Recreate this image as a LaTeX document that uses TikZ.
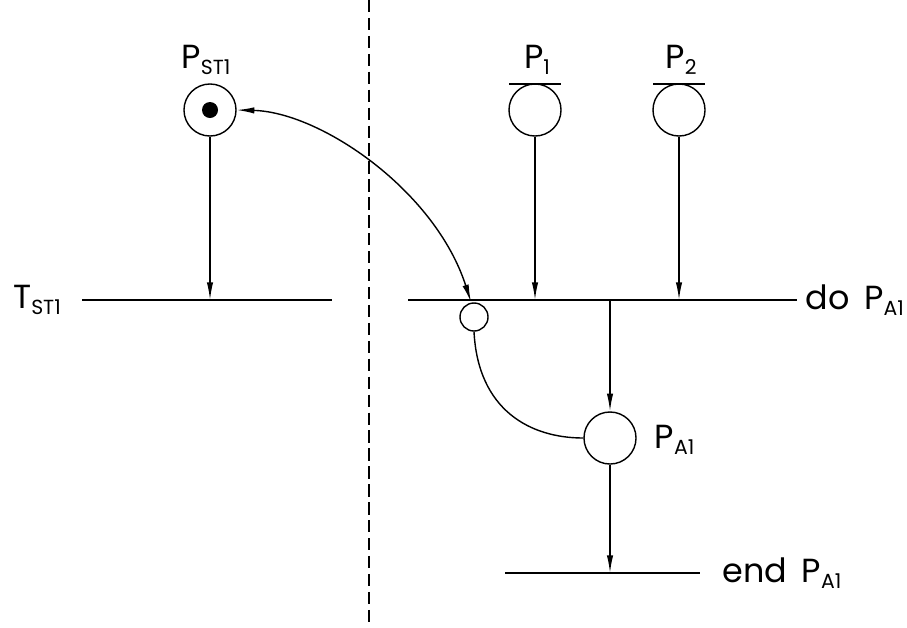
\documentclass[tikz,border=0pt]{standalone}
\usepackage{fontspec}
\setmainfont{Poppins}
\usetikzlibrary{arrows.meta,calc}
\newcommand{\sbs}[1]{\raisebox{-0.3ex}{\fontsize{5.8}{6}\selectfont #1}}
\begin{document}
\begin{tikzpicture}[x=0.01cm,y=-0.01cm,
  place/.style={draw,circle,line width=0.4pt,inner sep=0pt,minimum size=0.52cm},
  smallplace/.style={draw,circle,line width=0.4pt,inner sep=0pt,minimum size=0.28cm},
  trans/.style={line width=0.55pt},
  arc/.style={line width=0.4pt,-{Latex[length=5pt,width=1.8pt]}},
  plain/.style={line width=0.4pt},
  lbl/.style={font=\fontsize{9.5}{10}\selectfont,inner sep=0pt}]
\useasboundingbox (0,0) rectangle (907,627);
% dashed separator
\coordinate (dtop) at (369,0);
\coordinate (dbot) at (369,627);
\draw[line width=0.35pt,dash pattern=on 3.5pt off 1.6pt] (dtop) -- (dbot);
% places
\node[place] (pst) at (210,110) {};
\fill (pst.center) circle (0.08cm);
\node[place] (p1) at (535,110) {};
\node[place] (p2) at (679,110) {};
\node[place] (pa) at (610,438) {};
\node[smallplace] (ps) at (474,317) {};
% bars above P1 and P2
\coordinate (b1l) at (509,84); \coordinate (b1r) at (561,84);
\coordinate (b2l) at (653,84); \coordinate (b2r) at (705,84);
\draw[plain] (b1l) -- (b1r);
\draw[plain] (b2l) -- (b2r);
% transitions
\coordinate (t1l) at (82,300); \coordinate (t1r) at (332,300);
\coordinate (t2l) at (408,300); \coordinate (t2r) at (797,300);
\coordinate (t3l) at (505,573); \coordinate (t3r) at (700,573);
\draw[trans] (t1l) -- (t1r);
\draw[trans] (t2l) -- (t2r);
\draw[trans] (t3l) -- (t3r);
% target points on transitions
\coordinate (a1) at (210,300);
\coordinate (a2) at (535,300);
\coordinate (a3) at (679,300);
\coordinate (a4) at (610,300);
\coordinate (a5) at (610,573);
\coordinate (a6) at (471,302);
% arcs
\draw[arc] (pst.south) -- (a1);
\draw[arc] (p1.south) -- (a2);
\draw[arc] (p2.south) -- (a3);
\draw[arc] (a4) -- (pa.north);
\draw[arc] (pa.south) -- (a5);
\draw[arc,{Latex[length=5pt,width=1.8pt]}-{Latex[length=5pt,width=1.8pt]}] (pst.east) .. controls (320,112) and (435,190) .. (a6);
\draw[plain] (ps.south) .. controls (478,410) and (530,438) .. (pa.west);
% labels
\node[lbl] (lpst) at (206,60) {P\sbs{ST1}};
\node[lbl] (lp1) at (537,60) {P\sbs{1}};
\node[lbl] (lp2) at (681,60) {P\sbs{2}};
\node[lbl] (lt1) at (37,300) {T\sbs{ST1}};
\node[lbl,anchor=west] (ldo) at (805,300) {do\, P\sbs{A1}};
\node[lbl,anchor=west] (lpa) at (654,440) {P\sbs{A1}};
\node[lbl,anchor=west] (lend) at (722,573) {end\, P\sbs{A1}};
\end{tikzpicture}
\end{document}
